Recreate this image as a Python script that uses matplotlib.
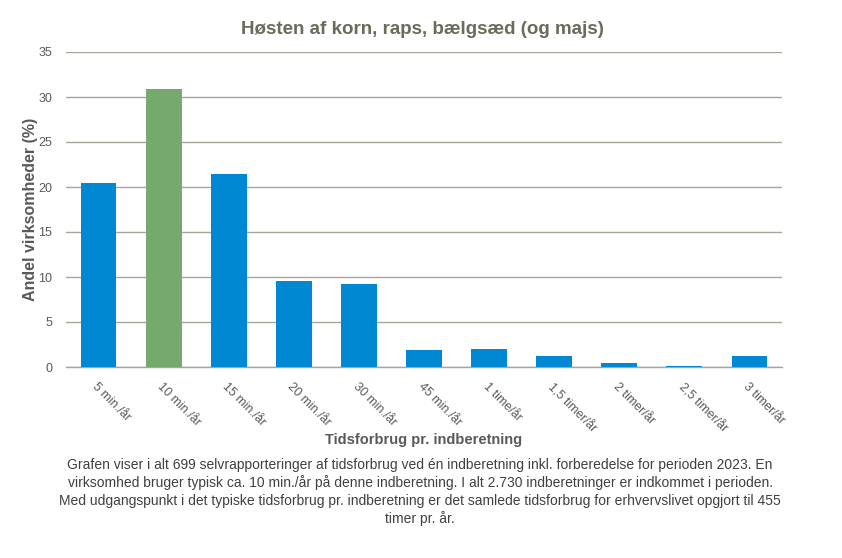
import numpy as np
import matplotlib
matplotlib.use("Agg")
import matplotlib.pyplot as plt

plt.rcParams['font.family'] = ['Liberation Sans', 'DejaVu Sans']

# data
kategorier = ['5 min./år', '10 min./år', '15 min./år', '20 min./år', '30 min./år',
              '45 min./år', '1 time/år', '1,5 timer/år', '2 timer/år',
              '2,5 timer/år', '3 timer/år']
andel = [20.5, 30.9, 21.5, 9.6, 9.2, 1.9, 2.0, 1.2, 0.45, 0.15, 1.2]
yticks = [0, 5, 10, 15, 20, 25, 30, 35]

titel = 'Høsten af korn, raps, bælgsæd (og majs)'
tekst = ('Grafen viser i alt 699 selvrapporteringer af tidsforbrug ved én indberetning inkl. forberedelse for perioden 2023. En\n'
         'virksomhed bruger typisk ca. 10 min./år på denne indberetning. I alt 2.730 indberetninger er indkommet i perioden.\n'
         'Med udgangspunkt i det typiske tidsforbrug pr. indberetning er det samlede tidsforbrug for erhvervslivet opgjort til 455\n'
         'timer pr. år.')

blaa = '#0089d2'
groen = '#76a96e'
farver = [groen if k == '10 min./år' else blaa for k in kategorier]

fig = plt.figure(figsize=(8.42, 5.58), dpi=100)
ax = fig.add_axes([66/842, 1-367/558, (782-66)/842, (367-52)/558])

x = np.arange(len(kategorier))
ax.bar(x, andel, width=0.55, color=farver, zorder=3)

ax.set_xlim(-0.5, len(kategorier)-0.5)
ax.set_ylim(0, 35)
ax.set_yticks(yticks)
ax.grid(axis='y', color='#a6a69a', linewidth=1, zorder=0)
for s in ['top', 'right', 'left']:
    ax.spines[s].set_visible(False)
ax.spines['bottom'].set_color('#a6a69a')
ax.spines['bottom'].set_linewidth(1)
ax.tick_params(axis='both', length=0, colors='#595959', labelsize=9)
ax.tick_params(axis='y', pad=10)
ax.set_xticks(x)
ax.set_xticklabels(kategorier, rotation=-45, ha='left', va='top', rotation_mode='anchor')
ax.tick_params(axis='x', pad=10)

ax.set_ylabel('Andel virksomheder (%)', fontsize=11.5, fontweight='bold', color='#595959', labelpad=0)
fig.text(424/842, 1-440/558, 'Tidsforbrug pr. indberetning', fontsize=10.5, fontweight='bold',
         color='#595959', ha='center', va='center')
fig.text(422/842, 1-30/558, titel, fontsize=13.5, fontweight='bold', color='#6b6b5b',
         ha='center', va='center')
fig.text(420/842, 1-492/558, tekst, fontsize=10, color='#404040', ha='center', va='center',
         linespacing=1.3)

plt.savefig('out.png', dpi=100)
